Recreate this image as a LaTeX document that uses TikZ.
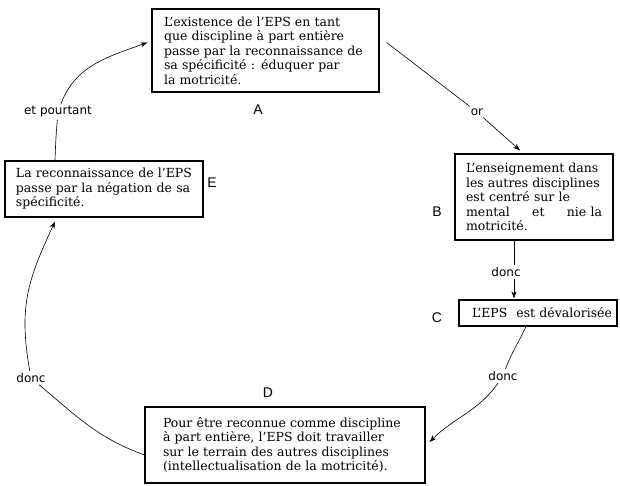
\documentclass[tikz,border=0pt]{standalone}
\usepackage{fontspec}
\setmainfont{DejaVu Serif}
\newfontfamily\tagfont{Liberation Sans}
\newfontfamily\linkfont{DejaVu Sans}
\usetikzlibrary{arrows.meta}

\begin{document}
\begin{tikzpicture}[x=1pt,y=1pt,
  textbox/.style={draw, line width=1.2pt, align=left, inner ysep=0pt,
    font=\fontsize{12.5}{14.5}\selectfont},
  tag/.style={font=\tagfont\fontsize{14}{14}\selectfont, inner sep=0pt},
  link/.style={font=\linkfont\fontsize{12}{13}\selectfont, inner sep=2pt},
  conn/.style={line width=0.6pt},
  arr/.style={conn, -{Stealth[length=7pt,width=5pt]}}
]
\useasboundingbox (0,0) rectangle (620,486);

% the five statements of the cycle
\node[textbox, minimum width=227, minimum height=83, inner xsep=12, text width=203] (A) at (265.5,435.5)
  {L'existence de l'EPS en tant\\que discipline à part entière\\passe par la reconnaissance de\\sa spécificité : éduquer par\\la motricité.};
\node[textbox, minimum width=158, minimum height=86, inner xsep=11, text width=136] (B) at (534,289)
  {L'enseignement dans\\les autres disciplines\\est centré sur le\\\leavevmode\hbox to 136pt{mental\hfill et\hfill nie la}\\motricité.};
\node[textbox, minimum width=158, minimum height=26, inner xsep=5, text width=148] (C) at (538,173)
  {\mbox{\hspace*{8pt}L'EPS\hspace{9pt}est dévalorisée}};
\node[textbox, minimum width=280, minimum height=76, inner xsep=18, text width=244] (D) at (285,41)
  {Pour être reconnue comme discipline\\à part entière, l'EPS doit travailler\\sur le terrain des autres disciplines\\(intellectualisation de la motricité).};
\node[textbox, minimum width=198, minimum height=56, inner xsep=11, text width=176] (E) at (104,297)
  {La reconnaissance de l'EPS\\passe par la négation de sa\\spécificité.};

% letters
\node[tag] (tA) at (258,376) {A};
\node[tag] (tB) at (437,274) {B};
\node[tag] (tC) at (437,168) {C};
\node[tag] (tD) at (268,93) {D};
\node[tag] (tE) at (212,303) {E};

% connector words
\node[link] (lor) at (477,374) {or};
\node[link] (lbc) at (506,214) {donc};
\node[link] (lcd) at (503,110) {donc};
\node[link] (lde) at (31,108) {donc};
\node[link] (let) at (58,374) {et pourtant};

% A -> B
\draw[conn] ([shift={(7,8)}]A.east) -- (lor);
\draw[arr] (lor) -- ([shift={(-14,3)}]B.north);
% B -> C
\draw[conn] ([xshift=-20]B.south) -- ([xshift=-20]B.south |- lbc.north);
\draw[arr] ([xshift=-20]B.south |- lbc.south) -- ([shift={(-24,1)}]C.north);
% C -> D
\draw[conn] ([xshift=-12]C.south) to[out=245,in=70] (lcd);
\draw[arr] (lcd) to[out=235,in=45] ([shift={(4,3)}]D.east);
% D -> E
\draw[conn] ([yshift=-10]D.west) to[out=160,in=-40] (lde);
\draw[arr] (lde) to[out=100,in=245,looseness=1.1] ([shift={(-49,-4)}]E.south);
% E -> A
\draw[conn] ([xshift=-49]E.north) to[out=88,in=265] (let);
\draw[arr] (let) to[out=70,in=200] ([shift={(-4,8)}]A.west);
\end{tikzpicture}
\end{document}
